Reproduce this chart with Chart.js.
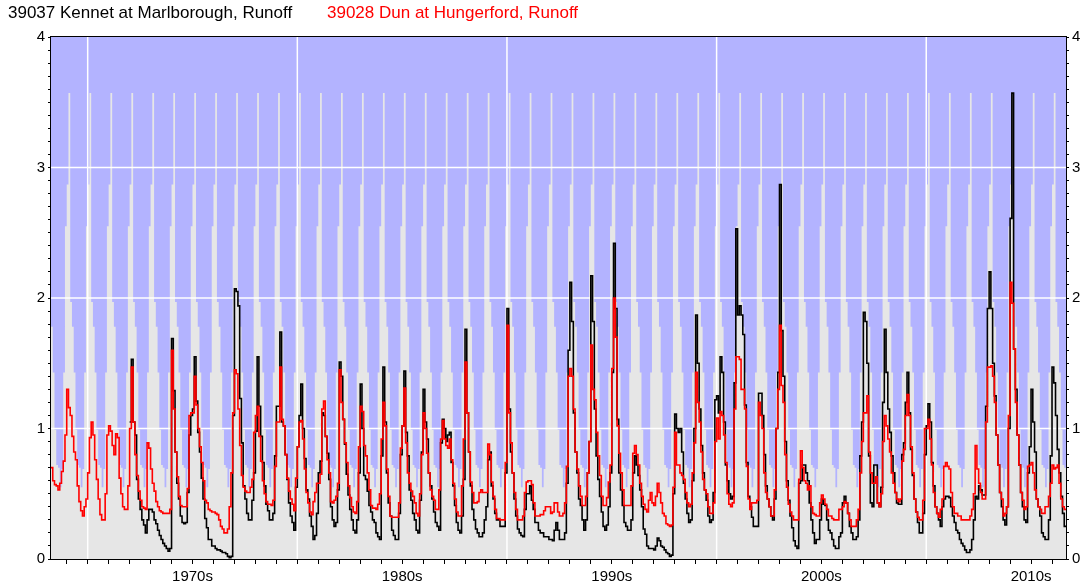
<!DOCTYPE html>
<html><head><meta charset="utf-8">
<script src="https://cdn.jsdelivr.net/npm/chart.js@4/dist/chart.umd.min.js"></script>
<style>
html,body{margin:0;padding:0;background:#fff;}
#wrap{position:relative;width:1087px;height:587px;overflow:hidden;}
#c{position:absolute;left:0;top:0;}
.leg{position:absolute;top:3px;font-family:"Liberation Sans",Arial,sans-serif;font-size:17px;white-space:nowrap;line-height:20px;}
</style></head><body>
<div id="wrap">
<canvas id="c" width="1087" height="587"></canvas>
<div class="leg" style="left:8px;color:#000">39037 Kennet at Marlborough, Runoff</div>
<div class="leg" style="left:327px;color:#ff0000">39028 Dun at Hungerford, Runoff</div>
</div>
<script>
// ---- data (monthly mean runoff, one row per calendar year) ----
const seriesStart = { year: 1968, month: 4 };      // first month shown (Apr 1968)
const kennetStartOffset = 45;                       // Kennet record begins Jan 1972

const dunRunoff = [
/*1968*/ 0.70,0.60,0.57,0.56,0.53,0.58,0.67,0.75,0.95,
/*1969*/ 1.30,1.16,1.10,0.94,0.82,0.76,0.56,0.44,0.37,0.33,0.40,0.46,
/*1970*/ 0.66,0.93,1.05,0.95,0.76,0.61,0.46,0.34,0.30,0.30,0.50,0.95,
/*1971*/ 1.02,0.98,0.87,0.80,0.96,0.93,0.62,0.50,0.40,0.38,0.38,0.56,
/*1972*/ 1.00,1.47,1.05,0.80,0.64,0.52,0.45,0.40,0.39,0.38,0.89,0.85,
/*1973*/ 0.69,0.58,0.52,0.44,0.40,0.37,0.36,0.35,0.35,0.35,0.35,0.38,
/*1974*/ 1.60,1.15,0.82,0.63,0.48,0.41,0.40,0.40,0.40,0.54,1.10,1.12,
/*1975*/ 1.12,1.40,1.18,1.00,0.86,0.74,0.60,0.45,0.43,0.38,0.37,0.36,
/*1976*/ 0.36,0.35,0.34,0.30,0.25,0.23,0.20,0.20,0.23,0.40,0.66,1.12,
/*1977*/ 1.45,1.42,1.15,0.87,0.64,0.55,0.52,0.51,0.51,0.55,0.61,0.97,
/*1978*/ 1.10,1.17,0.94,0.75,0.60,0.50,0.44,0.42,0.42,0.41,0.45,0.71,
/*1979*/ 1.05,1.05,1.47,1.07,1.02,0.80,0.62,0.52,0.46,0.42,0.37,0.62,
/*1980*/ 0.86,1.05,1.06,0.92,0.69,0.51,0.43,0.36,0.34,0.44,0.51,0.58,
/*1981*/ 0.58,0.65,1.15,1.21,0.94,0.76,0.66,0.44,0.43,0.45,0.48,0.58,
/*1982*/ 1.45,1.20,1.07,0.89,0.74,0.56,0.47,0.40,0.36,0.35,0.44,0.86,
/*1983*/ 1.17,1.13,0.87,0.79,0.66,0.53,0.41,0.39,0.39,0.38,0.42,0.50,
/*1984*/ 0.92,1.20,1.02,0.69,0.48,0.33,0.32,0.32,0.32,0.32,0.43,0.85,
/*1985*/ 1.02,1.31,0.89,0.66,0.58,0.52,0.48,0.43,0.35,0.33,0.50,0.80,
/*1986*/ 1.12,1.00,0.81,0.66,0.53,0.48,0.45,0.38,0.38,0.53,0.92,1.06,
/*1987*/ 0.92,0.87,0.85,0.92,0.76,0.58,0.46,0.36,0.33,0.33,0.56,0.92,
/*1988*/ 1.51,1.12,0.82,0.59,0.51,0.43,0.43,0.44,0.51,0.53,0.51,0.51,
/*1989*/ 0.51,0.88,0.80,0.59,0.48,0.38,0.31,0.31,0.30,0.30,0.30,0.74,
/*1990*/ 1.79,1.12,0.89,0.66,0.51,0.38,0.30,0.30,0.30,0.33,0.51,0.59,
/*1991*/ 0.60,0.60,0.57,0.43,0.33,0.33,0.33,0.34,0.34,0.37,0.40,0.40,
/*1992*/ 0.40,0.35,0.36,0.43,0.43,0.36,0.33,0.33,0.35,0.43,0.71,1.40,
/*1993*/ 1.46,1.40,1.15,0.82,0.69,0.56,0.48,0.41,0.41,0.48,0.66,0.90,
/*1994*/ 1.64,1.30,1.22,0.97,0.79,0.64,0.48,0.41,0.41,0.47,0.59,0.72,
/*1995*/ 1.46,2.00,1.70,1.02,0.81,0.66,0.53,0.41,0.41,0.41,0.41,0.56,
/*1996*/ 0.81,0.87,0.80,0.72,0.58,0.48,0.42,0.38,0.36,0.45,0.51,0.43,
/*1997*/ 0.41,0.48,0.58,0.51,0.43,0.35,0.33,0.27,0.26,0.25,0.26,0.55,
/*1998*/ 0.97,0.72,0.72,0.66,0.64,0.61,0.51,0.43,0.40,0.42,0.66,0.89,
/*1999*/ 1.43,1.20,1.05,0.82,0.61,0.53,0.50,0.40,0.35,0.35,0.43,0.90,
/*2000*/ 1.08,0.92,1.13,1.10,0.95,0.74,0.50,0.42,0.40,0.43,1.15,1.55,
/*2001*/ 1.55,1.53,1.30,1.30,1.15,0.71,0.46,0.38,0.43,0.43,0.43,0.45,
/*2002*/ 1.20,1.10,1.00,0.66,0.51,0.46,0.40,0.33,0.33,0.53,1.00,1.30,
/*2003*/ 1.79,1.33,1.20,0.80,0.55,0.42,0.36,0.33,0.30,0.30,0.30,0.61,
/*2004*/ 0.83,0.70,0.60,0.58,0.53,0.56,0.40,0.35,0.34,0.33,0.33,0.43,
/*2005*/ 0.49,0.46,0.42,0.38,0.33,0.33,0.31,0.30,0.30,0.30,0.38,0.38,
/*2006*/ 0.40,0.44,0.43,0.35,0.30,0.25,0.25,0.25,0.30,0.38,0.66,0.90,
/*2007*/ 1.12,1.12,1.25,0.82,0.66,0.58,0.58,0.63,0.43,0.40,0.50,0.90,
/*2008*/ 1.10,1.02,0.92,0.82,0.66,0.58,0.51,0.46,0.44,0.46,0.75,0.84,
/*2009*/ 1.10,1.26,1.10,0.86,0.66,0.46,0.36,0.32,0.30,0.30,0.45,1.00,
/*2010*/ 1.00,1.07,0.92,0.72,0.51,0.40,0.35,0.32,0.38,0.46,0.71,0.74,
/*2011*/ 0.71,0.69,0.51,0.40,0.35,0.35,0.33,0.33,0.30,0.30,0.30,0.30,
/*2012*/ 0.30,0.33,0.38,0.50,0.87,0.69,0.58,0.51,0.46,0.46,1.05,1.47,
/*2013*/ 1.47,1.48,1.40,1.20,0.95,0.72,0.51,0.46,0.33,0.35,0.40,1.10,
/*2014*/ 2.12,1.96,1.61,1.20,0.95,0.72,0.51,0.45,0.38,0.40,0.71,0.72,
/*2015*/ 0.74,0.66,0.53,0.46,0.40,0.38,0.35,0.35,0.40,0.40,0.48,0.58,
/*2016*/ 0.72,0.69,0.70,0.72,0.58,0.46,0.40,0.38
];

const kennetRunoff = [
/*1972*/ 1.05,1.53,1.05,0.95,0.61,0.46,0.38,0.30,0.26,0.20,0.30,0.38,
/*1973*/ 0.38,0.36,0.30,0.27,0.22,0.18,0.15,0.12,0.10,0.08,0.06,0.08,
/*1974*/ 1.69,1.29,0.82,0.58,0.46,0.33,0.28,0.27,0.28,0.51,0.95,1.10,
/*1975*/ 1.15,1.55,1.21,0.97,0.82,0.62,0.46,0.31,0.24,0.15,0.15,0.10,
/*1976*/ 0.10,0.08,0.07,0.07,0.06,0.05,0.05,0.04,0.02,0.01,0.02,1.10,
/*1977*/ 2.07,2.05,1.94,1.23,0.89,0.56,0.46,0.35,0.30,0.30,0.45,0.66,
/*1978*/ 0.98,1.55,1.17,0.94,0.74,0.56,0.42,0.37,0.30,0.30,0.35,0.79,
/*1979*/ 1.17,1.17,1.74,1.05,1.02,0.80,0.61,0.43,0.33,0.28,0.22,0.55,
/*1980*/ 0.86,1.10,1.34,1.00,0.77,0.53,0.46,0.33,0.25,0.15,0.18,0.35,
/*1981*/ 0.66,0.75,1.12,1.10,0.94,0.81,0.61,0.40,0.30,0.25,0.28,0.53,
/*1982*/ 1.51,1.40,1.07,0.88,0.65,0.49,0.38,0.30,0.22,0.20,0.30,0.66,
/*1983*/ 1.34,1.00,0.64,0.61,0.52,0.41,0.36,0.30,0.28,0.20,0.17,0.15,
/*1984*/ 0.79,1.47,1.05,0.66,0.43,0.33,0.22,0.18,0.15,0.15,0.35,0.80,
/*1985*/ 1.02,1.44,0.97,0.79,0.53,0.45,0.35,0.30,0.22,0.20,0.45,0.82,
/*1986*/ 1.30,1.05,0.92,0.66,0.56,0.46,0.36,0.28,0.25,0.22,0.89,1.07,
/*1987*/ 1.00,0.90,0.95,0.97,0.74,0.56,0.41,0.28,0.22,0.20,0.33,0.61,
/*1988*/ 1.76,1.12,0.82,0.56,0.38,0.30,0.23,0.20,0.17,0.17,0.20,0.30,
/*1989*/ 0.40,0.76,0.82,0.56,0.46,0.35,0.30,0.30,0.25,0.25,0.25,0.66,
/*1990*/ 1.92,1.15,0.82,0.66,0.46,0.33,0.23,0.20,0.18,0.17,0.38,0.50,
/*1991*/ 0.50,0.56,0.45,0.38,0.28,0.28,0.22,0.20,0.20,0.17,0.17,0.17,
/*1992*/ 0.15,0.15,0.14,0.22,0.28,0.22,0.15,0.15,0.15,0.20,0.58,1.60,
/*1993*/ 2.12,1.82,1.12,0.82,0.66,0.46,0.41,0.30,0.22,0.30,0.66,0.90,
/*1994*/ 2.17,1.82,1.15,0.79,0.61,0.48,0.36,0.25,0.22,0.26,0.40,0.66,
/*1995*/ 1.43,2.42,1.92,1.07,0.66,0.53,0.41,0.28,0.25,0.22,0.22,0.30,
/*1996*/ 0.66,0.79,0.72,0.64,0.53,0.40,0.23,0.19,0.10,0.08,0.08,0.08,
/*1997*/ 0.07,0.10,0.16,0.14,0.10,0.09,0.07,0.05,0.04,0.02,0.03,0.50,
/*1998*/ 1.11,1.00,0.97,1.00,0.82,0.58,0.46,0.35,0.28,0.30,0.60,1.00,
/*1999*/ 1.87,1.50,1.15,0.87,0.66,0.53,0.45,0.33,0.28,0.30,0.51,1.22,
/*2000*/ 1.25,1.12,1.55,1.43,1.05,0.72,0.60,0.50,0.46,0.48,1.35,2.53,
/*2001*/ 1.87,1.94,1.87,1.72,1.18,0.74,0.48,0.40,0.32,0.25,0.25,0.25,
/*2002*/ 1.27,1.27,1.10,0.80,0.56,0.46,0.40,0.33,0.30,0.46,1.00,1.43,
/*2003*/ 2.87,1.75,1.40,0.90,0.60,0.45,0.33,0.24,0.14,0.10,0.08,0.58,
/*2004*/ 0.60,0.72,0.72,0.66,0.60,0.43,0.30,0.20,0.12,0.15,0.15,0.30,
/*2005*/ 0.46,0.42,0.41,0.30,0.22,0.20,0.15,0.10,0.08,0.08,0.17,0.20,
/*2006*/ 0.43,0.48,0.43,0.35,0.25,0.20,0.15,0.15,0.17,0.30,0.79,1.05,
/*2007*/ 1.89,1.82,1.50,0.79,0.43,0.40,0.72,0.72,0.43,0.40,0.55,1.20,
/*2008*/ 1.76,1.43,1.15,0.97,0.79,0.66,0.51,0.43,0.42,0.42,0.80,0.89,
/*2009*/ 1.20,1.43,1.12,0.84,0.64,0.46,0.36,0.28,0.20,0.20,0.35,0.80,
/*2010*/ 1.02,1.19,1.05,0.74,0.56,0.40,0.35,0.30,0.25,0.40,0.46,0.48,
/*2011*/ 0.48,0.47,0.40,0.33,0.28,0.22,0.20,0.15,0.12,0.10,0.07,0.05,
/*2012*/ 0.05,0.07,0.15,0.30,0.48,0.46,0.56,0.53,0.49,0.49,1.17,1.92,
/*2013*/ 2.20,1.92,1.50,1.25,0.95,0.72,0.51,0.40,0.30,0.26,0.40,1.00,
/*2014*/ 2.61,3.57,1.61,1.30,0.95,0.72,0.51,0.40,0.30,0.28,0.66,0.86,
/*2015*/ 1.30,1.05,0.82,0.46,0.40,0.33,0.20,0.17,0.15,0.15,0.30,0.79,
/*2016*/ 1.47,1.35,1.10,0.84,0.66,0.48,0.35,0.25
];

// highest monthly runoff on record for each calendar month (Jan..Dec), shaded grey
const monthlyMaxRunoff = [2.87,3.57,1.97,1.78,1.43,0.99,0.72,0.70,0.55,0.69,1.43,2.55];

const yTickValues = [0,0.1,0.2,0.3,0.4,0.5,0.6,0.7,0.8,0.9,1,1.1,1.2,1.3,1.4,1.5,1.6,1.7,1.8,1.9,2,
  2.1,2.2,2.3,2.4,2.5,2.6,2.7,2.8,2.9,3,3.1,3.2,3.3,3.4,3.5,3.6,3.7,3.8,3.9,4];
const yGridValues = [1,2,3];
const xYearTicks = [1969,1970,1971,1972,1973,1974,1975,1976,1977,1978,1979,1980,1981,1982,1983,1984,1985,
  1986,1987,1988,1989,1990,1991,1992,1993,1994,1995,1996,1997,1998,1999,2000,2001,2002,2003,2004,2005,
  2006,2007,2008,2009,2010,2011,2012,2013,2014,2015,2016];
const xGridDecades = [1970,1980,1990,2000,2010];
const decadeLabels = {1975:'1970s',1985:'1980s',1995:'1990s',2005:'2000s',2015:'2010s'};
const xRange = { min: 1968.25, max: 2016 + 8/12 };

// ---- build datasets ----
const monthX = i => seriesStart.year + (seriesStart.month - 1 + i) / 12;
function stepPoints(values, offset) {
  const pts = values.map((v, i) => ({ x: monthX(i + offset), y: v }));
  pts.push({ x: monthX(values.length + offset), y: values[values.length - 1] });
  return pts;
}
const envelopePts = dunRunoff.map((_, i) => ({ x: monthX(i), y: monthlyMaxRunoff[(seriesStart.month - 1 + i) % 12] }));
envelopePts.push({ x: monthX(dunRunoff.length), y: envelopePts[envelopePts.length - 1].y });

const FONT = '"Liberation Sans", Arial, sans-serif';

const decorPlugin = {
  id: 'decor',
  beforeDraw(chart) {
    const { ctx, chartArea: a } = chart;
    ctx.save();
    ctx.fillStyle = '#b3b3ff';
    ctx.fillRect(a.left, a.top, a.right - a.left, a.bottom - a.top);
    ctx.restore();
  },
  afterDatasetDraw(chart, args) {
    if (args.index !== 0) return;
    const { ctx, chartArea: a, scales } = chart;
    ctx.save();
    ctx.strokeStyle = '#ffffff';
    ctx.lineWidth = 1.5;
    ctx.beginPath();
    yGridValues.forEach(v => { const y = scales.y.getPixelForValue(v); ctx.moveTo(a.left, y); ctx.lineTo(a.right, y); });
    xGridDecades.forEach(v => { const x = scales.x.getPixelForValue(v); ctx.moveTo(x, a.top); ctx.lineTo(x, a.bottom); });
    ctx.stroke();
    ctx.restore();
  },
  afterDraw(chart) {
    const { ctx, chartArea: a } = chart;
    ctx.save();
    ctx.strokeStyle = '#000';
    ctx.lineWidth = 1;
    ctx.strokeRect(a.left - 0.5, a.top - 0.5, a.right - a.left + 1, a.bottom - a.top + 1);
    ctx.restore();
  }
};

const yAxisCommon = {
  min: 0, max: 4,
  afterBuildTicks(s) { s.ticks = yTickValues.map(v => ({ value: v })); },
  ticks: {
    autoSkip: false,
    callback: v => (Math.abs(v - Math.round(v)) < 1e-6 ? String(Math.round(v)) : ''),
    font: { family: FONT, size: 15 }, color: '#000', padding: 3
  },
  grid: { display: true, drawOnChartArea: false, drawTicks: true, tickLength: 3, color: '#000', lineWidth: 1 },
  border: { display: false }
};

new Chart(document.getElementById('c'), {
  type: 'line',
  data: {
    datasets: [
      { label: 'max', data: envelopePts, stepped: true, fill: 'origin', backgroundColor: '#e6e6e6',
        borderWidth: 0, borderColor: 'rgba(0,0,0,0)', pointRadius: 0, order: 3 },
      { label: '39037 Kennet at Marlborough, Runoff', data: stepPoints(kennetRunoff, kennetStartOffset),
        stepped: true, borderColor: '#000000', borderWidth: 1.6, pointRadius: 0, fill: false, order: 2 },
      { label: '39028 Dun at Hungerford, Runoff', data: stepPoints(dunRunoff, 0),
        stepped: true, borderColor: '#ff0000', borderWidth: 1.6, pointRadius: 0, fill: false, order: 1 }
    ]
  },
  options: {
    responsive: false, animation: false, devicePixelRatio: 1, events: [],
    layout: { padding: { top: 37, left: 0, right: 0, bottom: 0 } },
    plugins: { legend: { display: false }, tooltip: { enabled: false }, title: { display: false } },
    scales: {
      x: {
        type: 'linear', min: xRange.min, max: xRange.max, position: 'bottom',
        afterBuildTicks(s) { s.ticks = xYearTicks.map(v => ({ value: v })); },
        ticks: { autoSkip: false, maxRotation: 0, callback: v => decadeLabels[v] || '',
          font: { family: FONT, size: 15 }, color: '#000', padding: 4 },
        grid: { display: true, drawOnChartArea: false, drawTicks: true, tickLength: 5, color: '#000', lineWidth: 1 },
        border: { display: false },
        afterFit(s) { s.height = 28; }
      },
      y: Object.assign({ position: 'left', afterFit(s) { s.width = 51; } }, yAxisCommon),
      y2: Object.assign({ position: 'right', afterFit(s) { s.width = 21; } }, yAxisCommon)
    }
  },
  plugins: [decorPlugin]
});
</script>
</body></html>
